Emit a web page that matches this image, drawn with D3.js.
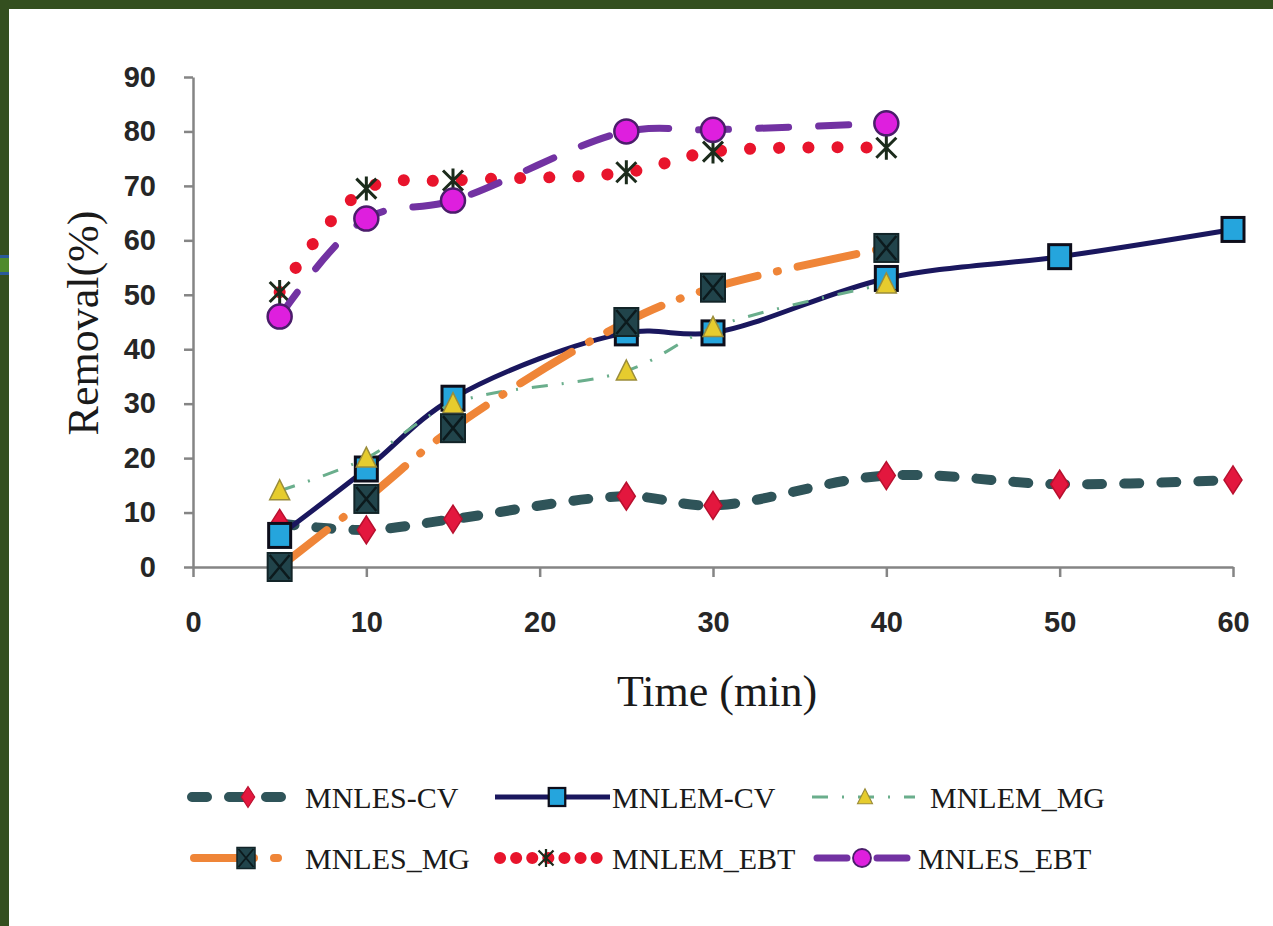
<!DOCTYPE html>
<html>
<head>
<meta charset="utf-8">
<script src="https://cdn.jsdelivr.net/npm/d3@7"></script>
<style>
  html, body { margin: 0; padding: 0; background: #ffffff; }
  svg { display: block; }
</style>
</head>
<body>
<svg id="chart" width="1273" height="926"></svg>
<script>
// ---- data ----
const times = [5, 10, 15, 25, 30, 40, 50, 60];
const xTicks = [0, 10, 20, 30, 40, 50, 60];
const yTicks = [0, 10, 20, 30, 40, 50, 60, 70, 80, 90];
const seriesNames = ["MNLES-CV", "MNLEM-CV", "MNLEM_MG", "MNLES_MG", "MNLEM_EBT", "MNLES_EBT"];
const mnlesCV  = [8, 6.8, 8.8, 13, 11.3, 16.8, 15.2, 16];
const mnlemCV  = [5.8, 18, 31, 43, 43, 53, 57, 62];
const mnlemMG  = [14, 20, 30, 36, 44, 52];
const mnlesMG  = [0, 12.5, 25.5, 45, 51.3, 58.6];
const mnlemEBT = [50.5, 69.5, 71, 72.5, 76.3, 77];
const mnlesEBT = [46, 64, 67.3, 80, 80.3, 81.5];

const svg = d3.select("#chart");
const W = 1273, H = 926;

// background + dark green frame
svg.append("rect").attr("x", 0).attr("y", 0).attr("width", W).attr("height", H).attr("fill", "#ffffff");
svg.append("rect").attr("x", 0).attr("y", 0).attr("width", W).attr("height", 9).attr("fill", "#344f1f");
svg.append("rect").attr("x", 0).attr("y", 0).attr("width", 9).attr("height", H).attr("fill", "#344f1f");
svg.append("rect").attr("x", 0).attr("y", 255).attr("width", 9).attr("height", 20).attr("fill", "#2a5a9a");
svg.append("rect").attr("x", 0).attr("y", 258).attr("width", 9).attr("height", 14).attr("fill", "#4e8a2c");

// scales
const x = d3.scaleLinear().domain([0, 60]).range([193, 1233]);
const y = d3.scaleLinear().domain([0, 90]).range([567, 77]);

const axisColor = "#858585";
const gx = svg.append("g").attr("transform", "translate(0,567)")
  .call(d3.axisBottom(x).tickValues(xTicks).tickSize(10).tickPadding(34).tickSizeOuter(0));
const gy = svg.append("g").attr("transform", "translate(193,0)")
  .call(d3.axisLeft(y).tickValues(yTicks).tickSize(9).tickPadding(28).tickSizeOuter(0));
[gx, gy].forEach(g => {
  g.selectAll("path.domain").attr("stroke", axisColor).attr("stroke-width", 2.5);
  g.selectAll(".tick line").attr("stroke", axisColor).attr("stroke-width", 2.5);
  g.selectAll(".tick text").attr("fill", "#262626")
    .style("font-family", "'Liberation Sans', Arial, sans-serif")
    .style("font-size", "29px").style("font-weight", "600");
});

// axis titles
svg.append("text").attr("x", 717).attr("y", 706).attr("text-anchor", "middle")
  .style("font-family", "'Liberation Serif', 'Times New Roman', serif").style("font-size", "44px")
  .attr("fill", "#1a1a1a").text("Time (min)");
svg.append("text").attr("transform", "translate(98,323) rotate(-90)").attr("text-anchor", "middle")
  .style("font-family", "'Liberation Serif', 'Times New Roman', serif").style("font-size", "44px")
  .attr("fill", "#1a1a1a").text("Removal(%)");

// marker drawing
function marker(g, type, cx, cy, scale) {
  const s = scale || 1;
  const m = g.append("g").attr("transform", `translate(${cx},${cy}) scale(${s})`);
  if (type === "diamond") {
    m.append("path").attr("d", "M0,-14 L9,0 L0,14 L-9,0 Z").attr("fill", "#e3173e").attr("stroke", "#b8102e").attr("stroke-width", 1.5);
  } else if (type === "square") {
    m.append("rect").attr("x", -11).attr("y", -12).attr("width", 22).attr("height", 24)
      .attr("fill", "#25a5dd").attr("stroke", "#0d0d1a").attr("stroke-width", 3);
  } else if (type === "triangle") {
    m.append("path").attr("d", "M0,-11 L10,9 L-10,9 Z").attr("fill", "#e6cc2e").attr("stroke", "#9a8c3a").attr("stroke-width", 1.5);
  } else if (type === "xsquare") {
    m.append("rect").attr("x", -12).attr("y", -14).attr("width", 24).attr("height", 28)
      .attr("fill", "#21444b").attr("stroke", "#122428").attr("stroke-width", 2);
    m.append("path").attr("d", "M-10,-12 L10,12 M10,-12 L-10,12").attr("stroke", "#0c1a1d").attr("stroke-width", 2.5);
  } else if (type === "star") {
    m.append("path").attr("d", "M-10,-10 L10,10 M10,-10 L-10,10 M0,-12 L0,12").attr("stroke", "#1b2b1b").attr("stroke-width", 3);
  } else if (type === "circle") {
    m.append("circle").attr("r", 12).attr("fill", "#de1fde").attr("stroke", "#4b1d6b").attr("stroke-width", 2.5);
  }
}

const styles = [
  { name: seriesNames[0], vals: mnlesCV, color: "#2f5459", width: 10, dash: "15,22", cap: "round", marker: "diamond" },
  { name: seriesNames[1], vals: mnlemCV, color: "#1a175e", width: 5, dash: null, cap: "butt", marker: "square" },
  { name: seriesNames[2], vals: mnlemMG, color: "#6aae8c", width: 3, dash: "16,14,2,14", cap: "butt", marker: "triangle" },
  { name: seriesNames[3], vals: mnlesMG, color: "#ef8538", width: 8, dash: "60,20,1,20", cap: "round", marker: "xsquare" },
  { name: seriesNames[4], vals: mnlemEBT, color: "#e8142c", width: 12, dash: "0.1,29", cap: "round", marker: "star" },
  { name: seriesNames[5], vals: mnlesEBT, color: "#7232a2", width: 7, dash: "30,30", cap: "round", marker: "circle" }
];

const line = d3.line().x(d => x(d[0])).y(d => y(d[1])).curve(d3.curveCatmullRom.alpha(0.5));

styles.forEach(s => {
  const pts = s.vals.map((v, i) => [times[i], v]);
  const g = svg.append("g");
  const p = g.append("path").attr("d", line(pts)).attr("fill", "none")
    .attr("stroke", s.color).attr("stroke-width", s.width).attr("stroke-linecap", s.cap);
  if (s.dash) p.attr("stroke-dasharray", s.dash);
  pts.forEach(d => marker(g, s.marker, x(d[0]), y(d[1])));
});

// legend
const legendItems = [
  { s: styles[0], x0: 192, x1: 300, mx: 248, tx: 305, ty: 808 },
  { s: styles[1], x0: 495, x1: 610, mx: 557, tx: 612, ty: 808 },
  { s: styles[2], x0: 812, x1: 915, mx: 865, tx: 930, ty: 808 },
  { s: styles[3], x0: 194, x1: 278, mx: 246, tx: 305, ty: 869 },
  { s: styles[4], x0: 500, x1: 604, mx: 546, tx: 612, ty: 869 },
  { s: styles[5], x0: 817, x1: 913, mx: 862, tx: 918, ty: 869 }
];
legendItems.forEach(it => {
  const g = svg.append("g");
  const cy = it.ty - 11;
  const lp = g.append("line").attr("x1", it.x0).attr("x2", it.x1).attr("y1", cy).attr("y2", cy)
    .attr("stroke", it.s.color).attr("stroke-width", it.s.width).attr("stroke-linecap", it.s.cap);
  if (it.s.dash) lp.attr("stroke-dasharray", it.s.marker === "star" ? "0.1,16" : (it.s.marker === "xsquare" ? "60,20" : it.s.dash));
  marker(g, it.s.marker, it.mx, cy, 0.75);
  g.append("text").attr("x", it.tx).attr("y", it.ty)
    .style("font-family", "'Liberation Serif', 'Times New Roman', serif").style("font-size", "30px")
    .attr("fill", "#1a1a1a").text(it.s.name);
});
</script>
</body>
</html>
